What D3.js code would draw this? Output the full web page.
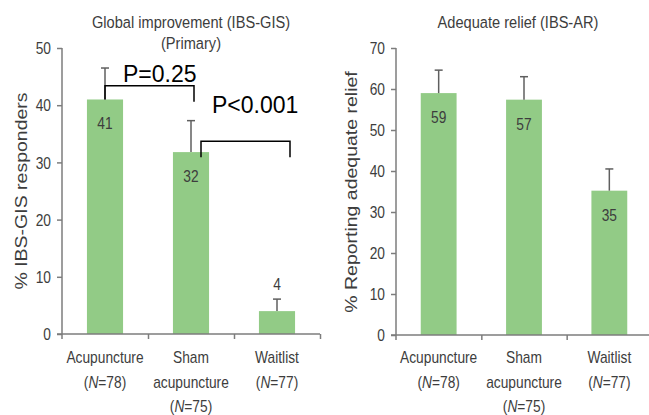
<!DOCTYPE html>
<html>
<head>
<meta charset="utf-8">
<script src="https://cdn.jsdelivr.net/npm/d3@7"></script>
<style>
  body { margin: 0; background: #fff; }
  text { font-family: "Liberation Sans", Arial, sans-serif; fill: #3d3d3d; }
</style>
</head>
<body>
<div id="chart"></div>
<script>
// data
var groups = ['Acupuncture', 'Sham acupuncture', 'Waitlist']
var groupN = [78, 75, 77]
var gisValues = [41, 31.8, 4]
var gisUpper = [46.5, 37.3, 6.1]
var arValues = [59, 57.4, 35.2]
var arUpper = [64.6, 63.0, 40.5]
var gisTicks = [0, 10, 20, 30, 40, 50]
var arTicks = [0, 10, 20, 30, 40, 50, 60, 70]

var width = 649
var height = 415
var sx = 0.86   // narrow-looking font in the original
var barColor = '#92cb86'
var axisColor = '#7d7d7d'

var svg = d3.select('#chart')
    .append('svg')
    .attr('width', width)
    .attr('height', height)

function narrowText(g, x, y, txt, size, anchor) {
    return g.append('text')
        .attr('transform', 'translate(' + x + ',' + y + ') scale(' + sx + ',1)')
        .attr('text-anchor', anchor || 'middle')
        .attr('font-size', size)
        .text(txt)
}

function panel(opt) {
    var g = svg.append('g')

    var y = d3.scaleLinear().domain([0, opt.yMax]).range([opt.y0, opt.y1])
    var x = d3.scaleBand().domain(groups).range([opt.x0, opt.x1])
        .paddingInner(0.58).paddingOuter(0.29)
    var edge = d3.scaleLinear().domain([0, groups.length]).range([opt.x0, opt.x1])

    // bars
    g.selectAll('rect.bar')
        .data(opt.values)
        .enter()
        .append('rect')
        .attr('class', 'bar')
        .attr('x', (d, i) => x(groups[i]))
        .attr('width', x.bandwidth())
        .attr('y', (d) => y(d))
        .attr('height', (d) => y(0) - y(d))
        .attr('fill', barColor)

    // upper error bars
    var err = g.selectAll('g.err')
        .data(opt.upper)
        .enter()
        .append('g')
        .attr('class', 'err')
        .attr('stroke', '#5f5f5f')
        .attr('stroke-width', 1.5)
    err.append('line')
        .attr('x1', (d, i) => x(groups[i]) + x.bandwidth() / 2)
        .attr('x2', (d, i) => x(groups[i]) + x.bandwidth() / 2)
        .attr('y1', (d, i) => y(opt.values[i]))
        .attr('y2', (d) => y(d))
    err.append('line')
        .attr('x1', (d, i) => x(groups[i]) + x.bandwidth() / 2 - 4)
        .attr('x2', (d, i) => x(groups[i]) + x.bandwidth() / 2 + 4)
        .attr('y1', (d) => y(d))
        .attr('y2', (d) => y(d))

    // value labels
    opt.values.forEach(function (v, i) {
        var cx = x(groups[i]) + x.bandwidth() / 2
        var yy = y(v) > y(0) - 40 ? y(opt.upper[i]) - 9 : y(v) + 30
        narrowText(g, cx, yy, Math.round(v), 16)
    })

    // y axis
    var yAxis = g.append('g')
        .attr('transform', 'translate(' + opt.x0 + ',0)')
        .call(d3.axisLeft(y).tickValues(opt.ticks).tickSize(5).tickSizeOuter(0))
    yAxis.select('.domain').remove()
    yAxis.append('line')
        .attr('y1', y(0) + 5).attr('y2', y(opt.yMax))
    yAxis.selectAll('line').attr('stroke', axisColor).attr('stroke-width', 1.5)
    yAxis.selectAll('.tick text')
        .attr('x', 0)
        .attr('dy', '0.36em')
        .attr('transform', 'translate(-11,0) scale(' + sx + ',1)')
        .attr('font-size', 16)
        .attr('font-family', '"Liberation Sans", Arial, sans-serif')
        .attr('fill', '#3d3d3d')

    // x axis with ticks at the group edges
    var xAxis = g.append('g')
        .attr('transform', 'translate(0,' + y(0) + ')')
        .call(d3.axisBottom(edge).tickValues(d3.range(1, groups.length + 1))
            .tickSize(5).tickSizeOuter(0).tickFormat(''))
    xAxis.select('.domain').remove()
    xAxis.append('line').attr('x1', opt.x0 - 5).attr('x2', opt.x1)
    xAxis.selectAll('line').attr('stroke', axisColor).attr('stroke-width', 1.5)

    // category labels
    groups.forEach(function (name, i) {
        var words = name.split(' ')
        var lines = words.concat(['N'])
        var cx = x(name) + x.bandwidth() / 2
        lines.forEach(function (ln, j) {
            var t = g.append('text')
                .attr('transform', 'translate(' + cx + ',' + (363 + j * 24.5) + ') scale(' + sx + ',1)')
                .attr('text-anchor', 'middle')
                .attr('font-size', 16)
            if (ln === 'N') {
                t.append('tspan').text('(')
                t.append('tspan').attr('font-style', 'italic').text('N')
                t.append('tspan').text('=' + groupN[i] + ')')
            } else {
                t.text(ln)
            }
        })
    })

    // y label
    g.append('text')
        .attr('transform', 'translate(' + opt.labelX + ',' + opt.labelY + ') rotate(-90) scale(1,0.8)')
        .attr('text-anchor', 'middle')
        .attr('font-size', 19.5)
        .text(opt.yLabel)

    // titles
    opt.title.forEach(function (t, j) {
        narrowText(g, opt.titleX, 28 + j * 21, t, 17)
    })

    return { x: x, y: y, g: g }
}

var left = panel({
    values: gisValues, upper: gisUpper, ticks: gisTicks, yMax: 50,
    x0: 62, x1: 320, y0: 334, y1: 48,
    yLabel: '% IBS-GIS responders', labelX: 27, labelY: 191,
    title: ['Global improvement (IBS-GIS)', '(Primary)'], titleX: 191
})

panel({
    values: arValues, upper: arUpper, ticks: arTicks, yMax: 70,
    x0: 396, x1: 652, y0: 335, y1: 48,
    yLabel: '% Reporting adequate relief', labelX: 357, labelY: 192,
    title: ['Adequate relief (IBS-AR)'], titleX: 518
})

// significance brackets on the left panel
var brackets = [
    { a: 0, b: 1, top: 43.4, legA: 41, legB: 40.6, dxA: 0, dxB: 3, p: 'P=0.25', tx: 18, ty: -4 },
    { a: 1, b: 2, top: 33.7, legA: 30.9, legB: 30.9, dxA: 10, dxB: 13, p: 'P<0.001', tx: 11, ty: -28 }
]

brackets.forEach(function (br) {
    var x = left.x, y = left.y
    var xa = x(groups[br.a]) + x.bandwidth() / 2 + br.dxA
    var xb = x(groups[br.b]) + x.bandwidth() / 2 + br.dxB
    left.g.append('path')
        .attr('d', 'M' + xa + ',' + y(br.legA) + 'V' + y(br.top) + 'H' + xb + 'V' + y(br.legB))
        .attr('fill', 'none')
        .attr('stroke', '#000')
        .attr('stroke-width', 1.5)
    left.g.append('text')
        .attr('x', xa + br.tx)
        .attr('y', y(br.top) + br.ty)
        .attr('font-size', 23)
        .style('fill', '#000')
        .text(br.p)
})
</script>
</body>
</html>
